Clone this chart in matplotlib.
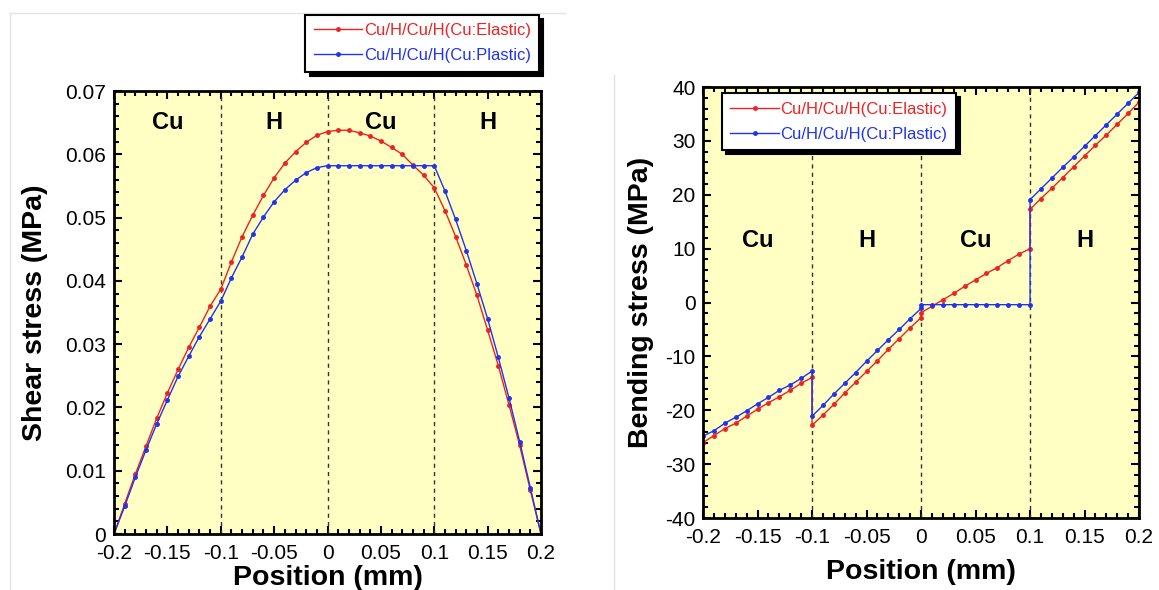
import matplotlib
matplotlib.use("Agg")
import matplotlib.pyplot as plt
from matplotlib.ticker import MultipleLocator, FuncFormatter
from matplotlib.lines import Line2D

plt.rcParams['font.family'] = ['Liberation Sans', 'DejaVu Sans']
plt.rcParams['axes.unicode_minus'] = False

# ---- shear stress (left) ----
pos = [-0.20, -0.19, -0.18, -0.17, -0.16, -0.15, -0.14, -0.13, -0.12, -0.11,
       -0.10, -0.09, -0.08, -0.07, -0.06, -0.05, -0.04, -0.03, -0.02, -0.01,
       0.00, 0.01, 0.02, 0.03, 0.04, 0.05, 0.06, 0.07, 0.08, 0.09,
       0.10, 0.11, 0.12, 0.13, 0.14, 0.15, 0.16, 0.17, 0.18, 0.19, 0.20]
shear_elastic = [0, 0.0048, 0.0095, 0.0139, 0.0183, 0.0223, 0.0260, 0.0295, 0.0327, 0.0360,
                 0.0387, 0.0430, 0.0470, 0.0504, 0.0535, 0.0563, 0.0586, 0.0604, 0.0619, 0.0630,
                 0.0636, 0.0638, 0.0638, 0.0634, 0.0629, 0.0621, 0.0611, 0.0600, 0.0583, 0.0567,
                 0.0547, 0.0511, 0.0470, 0.0425, 0.0377, 0.0322, 0.0266, 0.0204, 0.0140, 0.0069, 0]
shear_plastic = [0, 0.0044, 0.0090, 0.0133, 0.0174, 0.0212, 0.0249, 0.0281, 0.0312, 0.0340,
                 0.0368, 0.0405, 0.0438, 0.0474, 0.0501, 0.0525, 0.0544, 0.0559, 0.0571, 0.0579,
                 0.0582, 0.0582, 0.0582, 0.0582, 0.0582, 0.0582, 0.0582, 0.0582, 0.0582, 0.0582,
                 0.0582, 0.0542, 0.0497, 0.0448, 0.0395, 0.0340, 0.0279, 0.0215, 0.0146, 0.0073, 0]

# ---- bending stress (right), layer boundaries repeated for the jumps ----
pos_b = [-0.20, -0.19, -0.18, -0.17, -0.16, -0.15, -0.14, -0.13, -0.12, -0.11, -0.10,
         -0.10, -0.09, -0.08, -0.07, -0.06, -0.05, -0.04, -0.03, -0.02, -0.01, 0.00,
         0.00, 0.01, 0.02, 0.03, 0.04, 0.05, 0.06, 0.07, 0.08, 0.09, 0.10,
         0.10, 0.11, 0.12, 0.13, 0.14, 0.15, 0.16, 0.17, 0.18, 0.19, 0.20]
bend_elastic = [-26.0, -24.7, -23.4, -22.4, -21.1, -19.8, -18.6, -17.5, -16.3, -15.0, -13.9,
                -22.8, -20.9, -18.9, -16.8, -14.8, -12.8, -10.8, -8.7, -6.7, -4.7, -2.8,
                -1.9, -0.7, 0.5, 1.7, 3.0, 4.2, 5.4, 6.5, 7.8, 9.0, 10.0,
                17.3, 19.3, 21.2, 23.2, 25.2, 27.2, 29.2, 31.1, 33.1, 35.1, 37.2]
bend_plastic = [-24.8, -23.8, -22.4, -21.3, -20.1, -18.8, -17.6, -16.3, -15.3, -14.1, -12.7,
                -21.1, -19.1, -17.0, -15.0, -13.0, -10.9, -8.9, -6.9, -5.0, -3.0, -1.1,
                -0.4, -0.4, -0.4, -0.4, -0.4, -0.4, -0.4, -0.4, -0.4, -0.4, -0.4,
                19.1, 21.1, 23.1, 25.1, 27.0, 29.0, 31.0, 33.0, 35.0, 37.0, 39.0]

layers = ['Cu', 'H', 'Cu', 'H']
layer_centers = [-0.15, -0.05, 0.05, 0.15]
boundaries = [-0.1, 0, 0.1]
labels = ['Cu/H/Cu/H(Cu:Elastic)', 'Cu/H/Cu/H(Cu:Plastic)']

red = '#ee2222'
blue = '#2233ee'
bg = '#ffffc4'

fig = plt.figure(figsize=(11.59, 5.9), dpi=100)
ax1 = fig.add_axes([0.0984, 0.0949, 0.3684, 0.7508])
ax2 = fig.add_axes([0.6066, 0.1220, 0.3762, 0.7305])

fmt = FuncFormatter(lambda v, p: '%g' % round(v, 4))


def style(ax, ymaj, ymin, xpad, ypad):
    ax.set_facecolor(bg)
    ax.set_xlim(-0.2, 0.2)
    ax.xaxis.set_major_locator(MultipleLocator(0.05))
    ax.xaxis.set_minor_locator(MultipleLocator(0.01))
    ax.yaxis.set_major_locator(MultipleLocator(ymaj))
    ax.yaxis.set_minor_locator(MultipleLocator(ymin))
    ax.xaxis.set_major_formatter(fmt)
    ax.yaxis.set_major_formatter(fmt)
    ax.tick_params(which='both', direction='in', top=True, right=True, width=1.5,
                   labelsize=15, colors='black')
    ax.tick_params(which='major', length=6)
    ax.tick_params(which='minor', length=3.5)
    ax.tick_params(axis='x', pad=xpad)
    ax.tick_params(axis='y', pad=ypad)
    for s in ax.spines.values():
        s.set_linewidth(2)
    for b in boundaries:
        ax.axvline(b, color='#333333', ls=(0, (3, 3)), lw=1)


style(ax1, 0.01, 0.002, 7.5, 6)
ax1.set_ylim(0, 0.07)
l1, = ax1.plot(pos, shear_elastic, color=red, lw=1, marker='o', ms=2.5)
l2, = ax1.plot(pos, shear_plastic, color=blue, lw=1, marker='o', ms=2.5)
for t, xc in zip(layers, layer_centers):
    ax1.text(xc, 0.0651, t, ha='center', va='center', fontsize=17, fontweight='bold')
ax1.set_ylabel('Shear stress (MPa)', fontsize=20.5, fontweight='bold', labelpad=12)
ax1.set_xlabel('Position (mm)', fontsize=20.5, fontweight='bold', labelpad=1)

style(ax2, 10, 2, 7, 5.5)
ax2.set_ylim(-40, 40)
ax2.plot(pos_b, bend_elastic, color=red, lw=1, marker='o', ms=2.5)
ax2.plot(pos_b, bend_plastic, color=blue, lw=1, marker='o', ms=2.5)
for t, xc in zip(layers, layer_centers):
    ax2.text(xc, 11.6, t, ha='center', va='center', fontsize=17, fontweight='bold')
ax2.set_ylabel('Bending stress (MPa)', fontsize=20.5, fontweight='bold', labelpad=8)
ax2.set_xlabel('Position (mm)', fontsize=20.5, fontweight='bold', labelpad=9)

shadow = {'color': 'black', 'alpha': 1, 'ox': 3, 'oy': -3}
leg_kw = dict(fontsize=12, frameon=True, fancybox=False, shadow=shadow,
              handlelength=2.9, handletextpad=0.1, borderpad=0.5, labelspacing=0.6,
              borderaxespad=0, labelcolor='linecolor')
lg1 = fig.legend([l1, l2], labels, loc='upper right', bbox_to_anchor=(0.4651, 0.9746), **leg_kw)
lg2 = fig.legend([l1, l2], labels, loc='upper left', bbox_to_anchor=(0.623, 0.842), **leg_kw)
for lg in (lg1, lg2):
    lg.get_frame().set_edgecolor('black')
    lg.get_frame().set_linewidth(1.5)

# faint page frame lines around the panels
grey = '#e4e4e4'
fig.add_artist(Line2D([10 / 1159, 10 / 1159], [0, 1 - 13 / 590], color=grey, lw=1))
fig.add_artist(Line2D([10 / 1159, 565 / 1159], [1 - 13 / 590, 1 - 13 / 590], color=grey, lw=1))
fig.add_artist(Line2D([614 / 1159, 614 / 1159], [0, 1 - 75 / 590], color=grey, lw=1))

fig.savefig('out.png', dpi=100, facecolor='white')
